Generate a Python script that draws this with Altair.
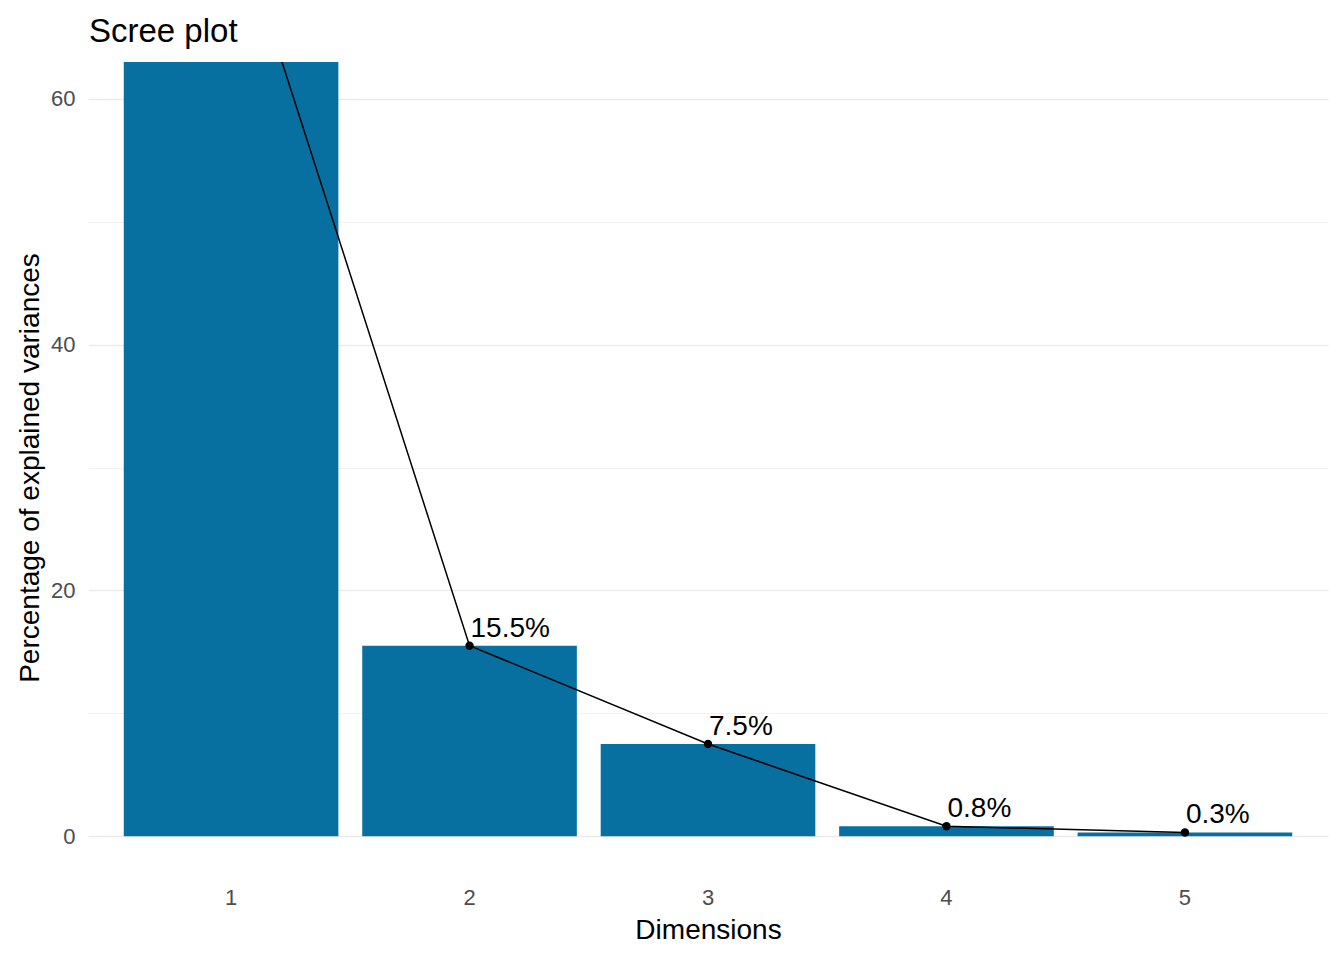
import altair as alt
import pandas as pd

# explained variance per dimension (first bar runs past the top of the panel)
dims = [1, 2, 3, 4, 5]
variances = [75.9, 15.5, 7.5, 0.8, 0.3]
labels = [f"{v}%" for v in variances]

FONT = "Liberation Sans"
BAR_COLOR = "#0870A1"
Y_TOP = 63

df = pd.DataFrame({"dim": dims, "var": variances, "label": labels})

x_enc = alt.X(
    "dim:O",
    title="Dimensions",
    scale=alt.Scale(paddingInner=0.1, paddingOuter=0.15),
    axis=alt.Axis(
        labelAngle=0,
        bandPosition=0.5,
        ticks=False,
        tickSize=0,
        domain=False,
        labelPadding=14,
        titlePadding=8,
        gridColor="#EBEBEB",
        gridWidth=1.6,
    ),
)
y_enc = alt.Y(
    "var:Q",
    title="Percentage of explained variances",
    scale=alt.Scale(domain=[-3, Y_TOP], nice=False, zero=False),
    axis=alt.Axis(
        values=[0, 10, 20, 30, 40, 50, 60],
        labelExpr="datum.value % 20 === 0 ? datum.label : ''",
        ticks=False,
        tickSize=0,
        domain=False,
        labelPadding=13,
        titlePadding=6,
        gridColor={
            "condition": {"test": "datum.value % 20 === 0", "value": "#EBEBEB"},
            "value": "#F2F2F2",
        },
        gridWidth={
            "condition": {"test": "datum.value % 20 === 0", "value": 1.6},
            "value": 1.0,
        },
    ),
)

base = alt.Chart(df).encode(x=x_enc)

bars = base.mark_bar(color=BAR_COLOR, clip=True).encode(y=y_enc, y2=alt.datum(0))
line = base.mark_line(color="black", strokeWidth=1.5, clip=True).encode(y="var:Q")
points = base.mark_point(
    filled=True, color="black", size=70, opacity=1, clip=True
).encode(y="var:Q")
# the label of the first bar sits above the panel and is not shown
text = (
    base.mark_text(
        align="left",
        baseline="alphabetic",
        dx=1,
        dy=-9,
        fontSize=28,
        font=FONT,
        color="black",
        clip=True,
    )
    .encode(y="var:Q", text="label:N")
    .transform_filter(f"datum.var <= {Y_TOP}")
)

chart = (
    alt.layer(bars, line, points, text)
    .properties(
        title=alt.Title(
            "Scree plot",
            anchor="start",
            frame="group",
            fontSize=33,
            fontWeight="normal",
            font=FONT,
            color="black",
            baseline="alphabetic",
            offset=21,
            dx=1,
            dy=34,
        ),
        width=1240,
        height=811,
        autosize=alt.AutoSizeParams(type="none"),
        padding={"left": 80, "top": 54, "right": 8, "bottom": 80},
    )
    .configure_view(strokeWidth=0)
    .configure_axis(
        labelFont=FONT,
        titleFont=FONT,
        labelFontSize=22,
        titleFontSize=28,
        labelColor="#4D4D4D",
        titleColor="black",
        titleFontWeight="normal",
    )
)

chart.save("out.html", embed_options={"renderer": "svg", "actions": False})
